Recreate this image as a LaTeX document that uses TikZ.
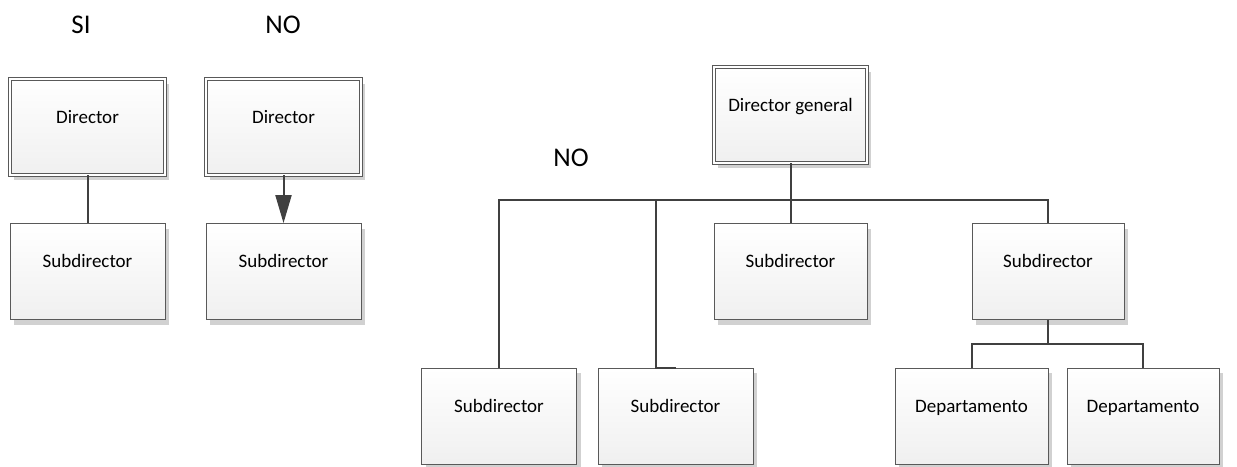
\documentclass[tikz,border=0pt]{standalone}
\usepackage{fontspec}
\setmainfont{Carlito}
\usetikzlibrary{arrows.meta}
\usetikzlibrary{shadows}

\definecolor{linegray}{HTML}{404040}
\definecolor{boxgray}{HTML}{595959}

\begin{document}
\begin{tikzpicture} [x=1pt, y=-1pt]
\tikzset{
  box/.style={draw=boxgray, line width=.8pt, top color=white, bottom color=gray!12,
    minimum width=155pt, minimum height=96pt, text height=14pt, text depth=22pt,
    font=\fontsize{19}{23}\selectfont,
    drop shadow={shadow xshift=4pt, shadow yshift=-5pt, fill=gray!45, opacity=.8}},
  dirbox/.style={box, double=white, double distance=2.6pt},
  link/.style={draw=linegray, line width=2pt},
  tag/.style={font=\fontsize{27}{32}\selectfont}
}
\useasboundingbox (0,0) rectangle (1237,466);

% si / no, left side
\node[tag] (si) at (81,25) {SI};
\node[tag] (no) at (283,25) {NO};
\node[dirbox] (sidir) at (87.5,127) {Director};
\node[box] (sisub) at (87.5,271.5) {Subdirector};
\node[dirbox] (nodir) at (283.5,127) {Director};
\node[box] (nosub) at (283.5,271.5) {Subdirector};

\draw[link] (sidir) -- (sisub);
\draw[link, -{Triangle[length=28pt, width=16pt]}] (nodir) -- (nosub);

% organigrama
\node[tag] (nob) at (571,158) {NO};
\node[dirbox, minimum width=153pt] (dg) at (790.5,115) {Director general};
\node[box, minimum width=153pt] (submid) at (790.5,271.5) {Subdirector};
\node[box, minimum width=152pt] (subright) at (1048,271.5) {Subdirector};
\node[box] (suba) at (499,416) {Subdirector};
\node[box] (subb) at (675.5,416) {Subdirector};
\node[box, minimum width=153pt] (depa) at (971.5,416) {Departamento};
\node[box, minimum width=152pt] (depb) at (1143,416) {Departamento};

\coordinate (bus) at (790.5,200);
\coordinate (busb) at (656,200);
\coordinate (deps) at (1048,344);

\draw[link] (dg) -- (submid);
\draw[link] (suba.north) |- (bus) -| (subright.north);
\draw[link] (busb) |- (subb.north);
\draw[link] (subright) -- (deps);
\draw[link] (depa.north) |- (deps) -| (depb.north);

\end{tikzpicture}
\end{document}
